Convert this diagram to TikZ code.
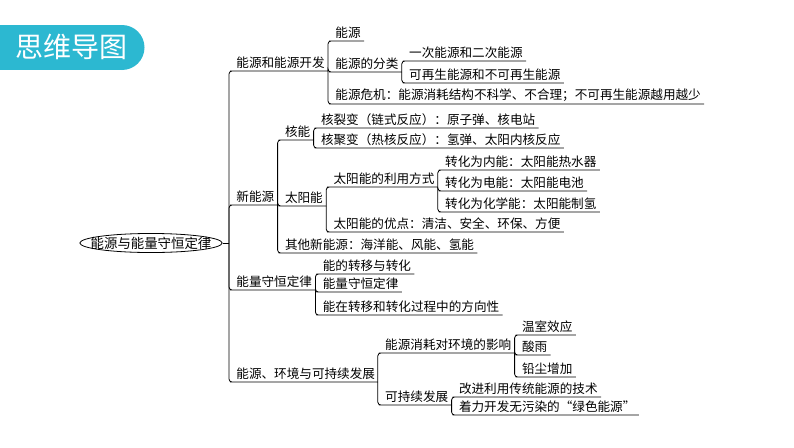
\documentclass[tikz,border=0pt]{standalone}
\usepackage{fontspec}
\usepackage{tikz}
\usetikzlibrary{shapes.geometric,positioning}
\newfontfamily\cjk{Noto Sans CJK SC}
\definecolor{tabblue}{RGB}{44,184,209}

\tikzset{
  item/.style={anchor=south west, inner xsep=3pt, inner ysep=2pt, font=\cjk\fontsize{12.6}{14}\selectfont},
  leaf/.style={item, xshift=4pt},
  uline/.style={line width=0.8pt, rounded corners=3pt},
}

\begin{document}
\begin{tikzpicture}[x=1pt, y=-1pt, line width=0.8pt]
\useasboundingbox (0,0) rectangle (794,447);
% title tab
\fill[tabblue] (0,25) rectangle (122,70);
\fill[tabblue] (122,47.5) circle[radius=22.5];
\node[font=\cjk\fontsize{28}{30}\selectfont, text=white] (title) at (71,47) {思维导图};

% root
\node[draw, ellipse, inner xsep=-10pt, inner ysep=0.5pt,
      font=\cjk\fontsize{13.4}{15}\selectfont] (root) at (151,243) {能源与能量守恒定律};
\coordinate (rj) at (229,243);
\draw (root.east) -- (rj);

% first level
\node[leaf] (dev) at (rj |- 0,71) {能源和能源开发};
\node[leaf] (newe) at (rj |- 0,205) {新能源};
\node[leaf] (cons) at (rj |- 0,290) {能量守恒定律};
\node[leaf, text width=138pt] (env) at (rj |- 0,382) {能源、环境与可持续发展};
\foreach \n in {dev,newe,cons,env}
  \draw[uline] (rj) |- (\n.south west) -- (\n.south east);

% energy and its development
\node[leaf] (src) at (dev.south east |- 0,41) {能源};
\node[leaf] (cls) at (dev.south east |- 0,72) {能源的分类};
\node[leaf] (crisis) at (dev.south east |- 0,104) {能源危机：能源消耗结构不科学、不合理；不可再生能源越用越少};
\node[leaf] (prim) at (cls.south east |- 0,61) {一次能源和二次能源};
\node[leaf] (renew) at (cls.south east |- 0,83) {可再生能源和不可再生能源};

% new energy
\node[leaf] (nuc) at (newe.south east |- 0,140) {核能};
\node[leaf] (solar) at (newe.south east |- 0,206) {太阳能};
\node[leaf] (other) at (newe.south east |- 0,253) {其他新能源：海洋能、风能、氢能};
\node[leaf] (fis) at (nuc.south east |- 0,128) {核裂变（链式反应）：原子弹、核电站};
\node[leaf] (fus) at (nuc.south east |- 0,148) {核聚变（热核反应）：氢弹、太阳内核反应};
\node[leaf] (use) at (solar.south east |- 0,187) {太阳能的利用方式};
\node[leaf] (adv) at (solar.south east |- 0,232) {太阳能的优点：清洁、安全、环保、方便};
\node[leaf] (heat) at (use.south east |- 0,170) {转化为内能：太阳能热水器};
\node[leaf] (elec) at (use.south east |- 0,191) {转化为电能：太阳能电池};
\node[leaf] (chem) at (use.south east |- 0,212) {转化为化学能：太阳能制氢};

% conservation
\node[leaf] (trans) at (cons.south east |- 0,274) {能的转移与转化};
\node[leaf] (law) at (cons.south east |- 0,292) {能量守恒定律};
\node[leaf] (dir) at (cons.south east |- 0,315) {能在转移和转化过程中的方向性};

% environment
\node[leaf] (eff) at (env.south east |- 0,353) {能源消耗对环境的影响};
\node[leaf] (sus) at (env.south east |- 0,405) {可持续发展};
\node[leaf] (green) at (eff.south east |- 0,335) {温室效应};
\node[leaf] (acid) at (eff.south east |- 0,355) {酸雨};
\node[leaf] (dust) at (eff.south east |- 0,377) {铅尘增加};
\node[leaf] (tech) at (sus.south east |- 0,397) {改进利用传统能源的技术};
\node[leaf] (clean) at (sus.south east |- 0,415) {着力开发无污染的“绿色能源”};

\foreach \p/\c in {dev/src, dev/cls, dev/crisis, cls/prim, cls/renew,
                   newe/nuc, newe/solar, newe/other, nuc/fis, nuc/fus,
                   solar/use, solar/adv, use/heat, use/elec, use/chem,
                   cons/trans, cons/law, cons/dir,
                   env/eff, env/sus, eff/green, eff/acid, eff/dust, sus/tech, sus/clean}
  \draw[uline] (\p.south east) |- (\c.south west) -- (\c.south east);
\end{tikzpicture}
\end{document}
